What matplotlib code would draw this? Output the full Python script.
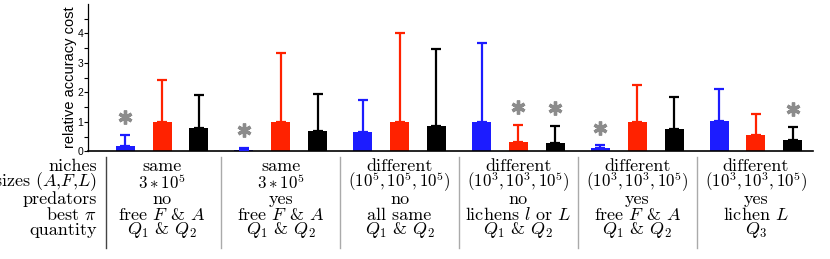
import matplotlib
matplotlib.use("Agg")
import matplotlib.pyplot as plt
import matplotlib.transforms as mtransforms
import numpy as np

plt.rcParams['mathtext.fontset'] = 'cm'

# ---- data ----
blue_vals = [0.18, 0.03, 0.66, 1.00, 0.10, 1.02]
blue_err = [0.37, 0.09, 1.09, 2.69, 0.10, 1.10]
red_vals = [1.00, 1.00, 1.00, 0.33, 1.00, 0.55]
red_err = [1.41, 2.33, 3.00, 0.57, 1.26, 0.71]
black_vals = [0.80, 0.69, 0.85, 0.29, 0.76, 0.37]
black_err = [1.11, 1.26, 2.63, 0.57, 1.09, 0.47]
blue_sig = [True, True, False, False, True, False]
red_sig = [False, False, False, True, False, False]
black_sig = [False, False, False, True, False, True]

row_labels = ["niches", r"sizes $(A$,$F$,$L)$", "predators", r"best $\pi$", "quantity"]
col_texts = [
    ["same", r"$3*10^5$", "no", r"free $F$ & $A$", r"$Q_1$ & $Q_2$"],
    ["same", r"$3*10^5$", "yes", r"free $F$ & $A$", r"$Q_1$ & $Q_2$"],
    ["different", r"$(10^5,10^5,10^5)$", "no", "all same", r"$Q_1$ & $Q_2$"],
    ["different", r"$(10^3,10^3,10^5)$", "no", r"lichens $l$ or $L$", r"$Q_1$ & $Q_2$"],
    ["different", r"$(10^3,10^3,10^5)$", "yes", r"free $F$ & $A$", r"$Q_1$ & $Q_2$"],
    ["different", r"$(10^3,10^3,10^5)$", "yes", r"lichen $L$", r"$Q_3$"],
]
yticks = [0, 1, 2, 3, 4]

BLUE = "#1c1cff"
RED = "#ff2200"
BLACK = "#000000"

fig = plt.figure(figsize=(8.3, 2.59), dpi=100)
ax = fig.add_axes([88/830, 1-151.3/259, (813-88)/830, 147.3/259])

x = np.arange(len(red_vals))
off = 0.31
w = 0.16
series = [(x - off, blue_vals, blue_err, blue_sig, BLUE),
          (x, red_vals, red_err, red_sig, RED),
          (x + off, black_vals, black_err, black_sig, BLACK)]
for xs, v, e, s, c in series:
    ax.bar(xs, v, width=w, color=c, edgecolor='none', zorder=2)
    ax.errorbar(xs, v, yerr=[np.zeros(len(v)), e], fmt='none', ecolor=c,
                elinewidth=1.6, capsize=3.5, capthick=1.6, zorder=3)
    for xi, vi, ei, si in zip(xs, v, e, s):
        if si:
            ax.plot(xi, vi + ei + 0.6, marker=(6, 2, 0), markersize=10,
                    markeredgewidth=2.4, color='#8c8c8c', zorder=4)

ax.set_xlim(-0.623, 5.48)
ax.set_ylim(0, 5.0)
ax.set_yticks(yticks)
ax.set_yticks(np.arange(0, 5.0, 0.5), minor=True)
ax.tick_params(axis='y', which='both', direction='out', length=3, width=0.8,
               labelsize=7.5, pad=0.5)
for lab in ax.get_yticklabels():
    lab.set_fontfamily('Liberation Sans')
ax.set_xticks([])
ax.spines['top'].set_visible(False)
ax.spines['right'].set_visible(False)
ax.spines['left'].set_linewidth(0.9)
ax.spines['bottom'].set_linewidth(1.2)
ax.set_ylabel("relative accuracy cost", fontsize=10.5, family='Liberation Sans', labelpad=0)

# ---- table below ----
trans = mtransforms.blended_transform_factory(ax.transData, fig.transFigure)
row_py = [166, 182, 199, 215, 230]
tfs = 13
row_fs = [tfs, 12.2, tfs, tfs, tfs]
for r, lab in enumerate(row_labels):
    ax.text(-0.55, 1 - row_py[r]/259, lab, transform=trans, ha='right', va='center',
            fontsize=tfs, family='cmr10', clip_on=False)
for ci, col in enumerate(col_texts):
    for r, t in enumerate(col):
        ax.text(x[ci], 1 - row_py[r]/259, t, transform=trans, ha='center', va='center',
                fontsize=row_fs[r], family='cmr10', clip_on=False)
    sep_color = '#444444' if ci == 0 else '#aaaaaa'
    sx = x[ci] - 0.5 + (0.03 if ci == 0 else 0)
    ax.plot([sx, sx], [1 - 157/259, 1 - 248/259], transform=trans, color=sep_color,
            lw=1.0, clip_on=False)

fig.savefig("out.png", dpi=100)
